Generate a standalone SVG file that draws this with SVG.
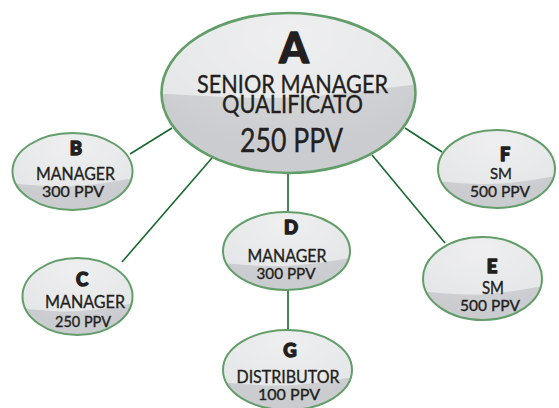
<svg xmlns="http://www.w3.org/2000/svg" width="559" height="408" viewBox="0 0 559 408">
<style>
  .conn { stroke: #17692f; stroke-width: 1.6; fill: none; }
  .base { fill: #cbcccf; }
  .hl { fill: #e5e6e7; }
  .rim { fill: none; stroke: #629e69; stroke-width: 2.6; }
  .t { font-family: Lato, "Open Sans", "Liberation Sans", sans-serif; fill: #231f20; text-anchor: middle; stroke: #231f20; stroke-width: 0.35; }
  .big { font-weight: 900; stroke-width: 1.4; stroke-linejoin: round; }
</style>
<defs>
  <clipPath id="unit"><circle cx="0" cy="0" r="1"/></clipPath>
  <radialGradient id="sheen" cx="0.5" cy="0.15" r="0.7">
    <stop offset="0" stop-color="#ffffff" stop-opacity="0.35"/>
    <stop offset="1" stop-color="#ffffff" stop-opacity="0"/>
  </radialGradient>
  <path id="hlSmall" d="M-1.2,-1.2 H1.2 V0.12 C0.6,0.3 0.1,0.42 -0.4,0.38 C-0.8,0.35 -1,0.3 -1.2,0.3 Z"/>
  <path id="hlBig" d="M-1.2,-1.2 H1.2 V-0.15 C0.7,-0.05 0.2,0.08 -0.3,0.06 C-0.7,0.04 -1,0 -1.2,0 Z"/>
</defs>
<rect width="559" height="408" fill="#ffffff"/>

<g id="connectors">
  <line class="conn" x1="172" y1="128" x2="130" y2="154"/>
  <line class="conn" x1="212" y1="158" x2="122" y2="262"/>
  <line class="conn" x1="288" y1="172" x2="288" y2="213"/>
  <line class="conn" x1="372" y1="155" x2="445" y2="243"/>
  <line class="conn" x1="405" y1="128" x2="442" y2="152"/>
  <line class="conn" x1="288" y1="289" x2="288" y2="331"/>
</g>

<g id="node-A">
  <g transform="translate(288.5 93) scale(127 80)">
    <circle class="base" r="1"/>
    <use href="#hlBig" class="hl" clip-path="url(#unit)"/>
    <circle r="1" fill="url(#sheen)"/>
    <circle class="rim" r="1" vector-effect="non-scaling-stroke"/>
  </g>
  <text class="t big" x="294" y="63" font-size="42">A</text>
  <text class="t" x="292.5" y="93" font-size="25" textLength="191" lengthAdjust="spacingAndGlyphs">SENIOR MANAGER</text>
  <text class="t" x="292.5" y="113" font-size="25" textLength="141" lengthAdjust="spacingAndGlyphs">QUALIFICATO</text>
  <text class="t" x="291.5" y="152" font-size="33" textLength="103" lengthAdjust="spacingAndGlyphs">250 PPV</text>
</g>

<g id="node-B">
  <g transform="translate(72.5 171.5) scale(60 38.5)">
    <circle class="base" r="1"/>
    <use href="#hlSmall" class="hl" clip-path="url(#unit)"/>
    <circle r="1" fill="url(#sheen)"/>
    <circle class="rim" r="1" vector-effect="non-scaling-stroke" style="stroke-width:2"/>
  </g>
  <text class="t big" x="76" y="155" font-size="18.5">B</text>
  <text class="t" x="75.5" y="180" font-size="17.5" textLength="79" lengthAdjust="spacingAndGlyphs">MANAGER</text>
  <text class="t" x="73" y="197" font-size="15" textLength="62" lengthAdjust="spacingAndGlyphs">300 PPV</text>
</g>

<g id="node-C">
  <g transform="translate(77.5 296.5) scale(55 38.5)">
    <circle class="base" r="1"/>
    <use href="#hlSmall" class="hl" clip-path="url(#unit)"/>
    <circle r="1" fill="url(#sheen)"/>
    <circle class="rim" r="1" vector-effect="non-scaling-stroke" style="stroke-width:2"/>
  </g>
  <text class="t big" x="82" y="286" font-size="18.5">C</text>
  <text class="t" x="85" y="308" font-size="17.5" textLength="80" lengthAdjust="spacingAndGlyphs">MANAGER</text>
  <text class="t" x="83" y="327" font-size="15" textLength="56" lengthAdjust="spacingAndGlyphs">250 PPV</text>
</g>

<g id="node-D">
  <g transform="translate(286.5 251) scale(63.5 39)">
    <circle class="base" r="1"/>
    <use href="#hlSmall" class="hl" clip-path="url(#unit)"/>
    <circle r="1" fill="url(#sheen)"/>
    <circle class="rim" r="1" vector-effect="non-scaling-stroke" style="stroke-width:2"/>
  </g>
  <text class="t big" x="291" y="234" font-size="18.5">D</text>
  <text class="t" x="287" y="262" font-size="17.5" textLength="79" lengthAdjust="spacingAndGlyphs">MANAGER</text>
  <text class="t" x="286" y="279" font-size="15" textLength="59" lengthAdjust="spacingAndGlyphs">300 PPV</text>
</g>

<g id="node-E">
  <g transform="translate(482.5 278.5) scale(59.5 41.5)">
    <circle class="base" r="1"/>
    <use href="#hlSmall" class="hl" clip-path="url(#unit)"/>
    <circle r="1" fill="url(#sheen)"/>
    <circle class="rim" r="1" vector-effect="non-scaling-stroke" style="stroke-width:2"/>
  </g>
  <text class="t big" x="492" y="273" font-size="18.5">E</text>
  <text class="t" x="493" y="294" font-size="16.5" textLength="22" lengthAdjust="spacingAndGlyphs">SM</text>
  <text class="t" x="490" y="311" font-size="15" textLength="60" lengthAdjust="spacingAndGlyphs">500 PPV</text>
</g>

<g id="node-F">
  <g transform="translate(496.5 169) scale(58.5 39)">
    <circle class="base" r="1"/>
    <use href="#hlSmall" class="hl" clip-path="url(#unit)"/>
    <circle r="1" fill="url(#sheen)"/>
    <circle class="rim" r="1" vector-effect="non-scaling-stroke" style="stroke-width:2"/>
  </g>
  <text class="t big" x="505" y="161" font-size="18">F</text>
  <text class="t" x="501" y="179" font-size="16" textLength="22" lengthAdjust="spacingAndGlyphs">SM</text>
  <text class="t" x="500" y="197" font-size="15" textLength="60" lengthAdjust="spacingAndGlyphs">500 PPV</text>
</g>

<g id="node-G">
  <g transform="translate(287.5 370) scale(64.5 40)">
    <circle class="base" r="1"/>
    <use href="#hlSmall" class="hl" clip-path="url(#unit)"/>
    <circle r="1" fill="url(#sheen)"/>
    <circle class="rim" r="1" vector-effect="non-scaling-stroke" style="stroke-width:2"/>
  </g>
  <text class="t big" x="290" y="357" font-size="18.5">G</text>
  <text class="t" x="288" y="383" font-size="17.5" textLength="103" lengthAdjust="spacingAndGlyphs">DISTRIBUTOR</text>
  <text class="t" x="289" y="400" font-size="15" textLength="62" lengthAdjust="spacingAndGlyphs">100 PPV</text>
</g>
</svg>
